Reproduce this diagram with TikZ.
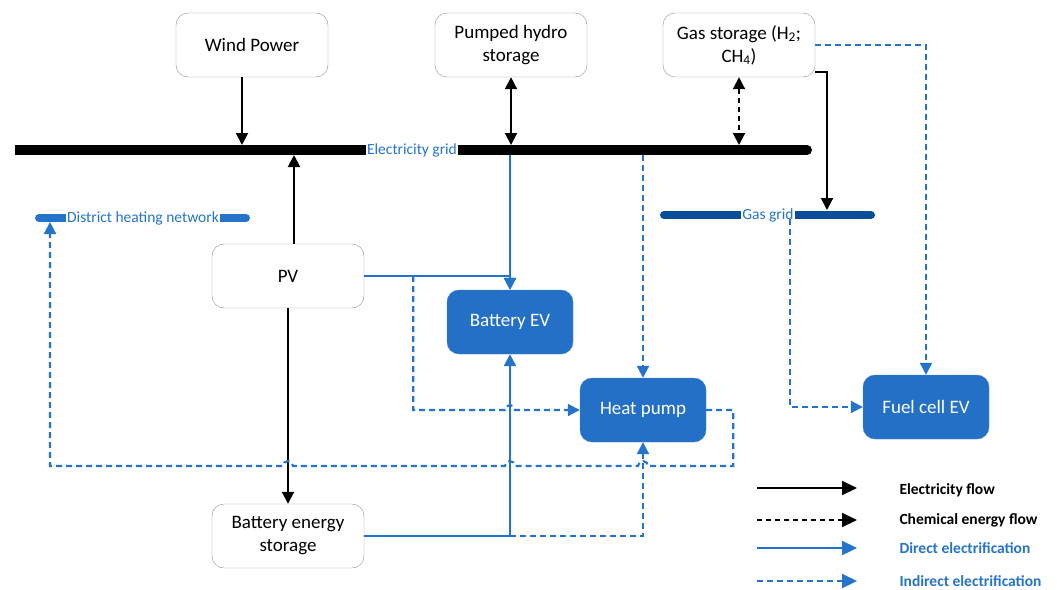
\documentclass[tikz,border=0pt]{standalone}
\usepackage{fontspec}
\setmainfont{Carlito}
\usetikzlibrary{arrows.meta,calc}
\definecolor{boxblue}{HTML}{2470C6}
\definecolor{flowblue}{HTML}{2474CC}
\definecolor{gasblue}{HTML}{0A4E9A}
\definecolor{rimgray}{HTML}{909090}

\begin{document}
\begin{tikzpicture}[x=1pt,y=-1pt,>={Triangle[length=12pt,width=12pt]},
  plain/.style={draw=rimgray,fill=white,rounded corners=12pt,align=center,
    minimum width=152pt,minimum height=64pt,font=\fontsize{19}{23}\selectfont},
  filled/.style={draw=boxblue!85!white,fill=boxblue,text=white,rounded corners=12pt,
    minimum width=126pt,minimum height=64pt,font=\fontsize{19}{23}\selectfont},
  elec/.style={->,line width=2pt},
  chem/.style={->,line width=2pt,dash pattern=on 5pt off 4pt},
  direct/.style={->,flowblue,line width=2.3pt},
  indirect/.style={->,flowblue,line width=2.1pt,dash pattern=on 6pt off 4pt},
  bar/.style={line width=10pt},
  barlabel/.style={flowblue,font=\fontsize{15.5}{18}\selectfont,inner sep=1pt},
  keytext/.style={anchor=west,font=\fontsize{15.5}{18}\selectfont\bfseries},
  keytip/.style={-{Triangle[length=15pt,width=14pt]}}]
  \useasboundingbox (0,0) rectangle (1057,589);

  % boxes
  \node[plain] (wind) at (252,45) {Wind Power};
  \node[plain] (hydro) at (511,45) {Pumped hydro\\storage};
  \node[plain] (gas) at (739,45) {Gas storage (H\textsubscript{2};\\CH\textsubscript{4})};
  \node[plain] (pv) at (288,276) {PV};
  \node[plain] (bes) at (288,536) {Battery energy\\storage};
  \node[filled] (bev) at (510,322) {Battery EV};
  \node[filled] (hp) at (643,410) {Heat pump};
  \node[filled] (fcev) at (926,407) {Fuel cell EV};

  % networks
  \node[barlabel] (elgrid) at (412,150) {Electricity grid};
  \draw[bar] (15,150) -- (elgrid.west);
  \draw[bar] (elgrid.east) -- (807,150);
  \draw[bar,line cap=round] (800,150) -- (807,150);
  \node[barlabel] (gasgrid) at (768,215) {Gas grid};
  \draw[bar,gasblue,line width=8pt] (664,215) -- (gasgrid.west);
  \draw[bar,gasblue,line width=8pt] (gasgrid.east) -- (871,215);
  \draw[bar,gasblue,line width=8pt,line cap=round] (664,215) -- (680,215) (860,215) -- (871,215);
  \node[barlabel,anchor=west] (dhn) at (66,218) {District heating network};
  \draw[bar,flowblue,line width=8pt] (39,218) -- (dhn.west);
  \draw[bar,flowblue,line width=8pt] (dhn.east) -- (246,218);
  \draw[bar,flowblue,line width=8pt,line cap=round] (39,218) -- (45,218) (240,218) -- (246,218);

  \coordinate (gridtop) at (0,145);
  \coordinate (gridbot) at (0,155);
  \coordinate (ggtop) at (827,210);
  \coordinate (ggdrop) at (790,219);
  \coordinate (dhbot) at (50,222);
  \coordinate (pvsplit) at ($(pv.east)+(49,0)$);
  \coordinate (loopR) at ($(hp.east)+(27,0)$);
  \coordinate (loopy) at (0,466);

  % flows
  \draw[elec] ([xshift=-10pt]wind.south) -- ([xshift=-10pt]wind.south |- gridtop);
  \draw[elec,<->] (hydro.south) -- (hydro.south |- gridtop);
  \draw[chem,<->] (gas.south) -- (gas.south |- gridtop);
  \draw[elec] ([yshift=5pt]gas.south east) -| (ggtop);
  \draw[indirect] (gas.east) -| (fcev.north);
  \draw[elec] ([xshift=6pt]pv.north) -- ([xshift=6pt]pv.north |- gridbot);
  \draw[elec] (pv.south) -- (bes.north);
  \draw[direct] (bev.north |- gridbot) -- (bev.north);
  \draw[direct] (pv.east) -| (bev.north);
  \draw[indirect] (pvsplit) |- ([xshift=-5pt]bev.south |- hp.west)
    arc[start angle=180,delta angle=-180,radius=5pt] -- (hp.west);
  \draw[indirect] (hp.north |- gridbot) -- (hp.north);
  \draw[direct] (bes.east) -| (bev.south);
  \draw[indirect] (bes.east -| bev.south) -| (hp.south);
  \draw[indirect] (hp.east) -- (loopR) |- ([xshift=5pt]hp.south |- loopy)
    arc[start angle=0,delta angle=180,radius=5pt]
    -- ([xshift=5pt]bev.south |- loopy) arc[start angle=0,delta angle=180,radius=5pt]
    -- ([xshift=5pt]pv.south |- loopy) arc[start angle=0,delta angle=180,radius=5pt]
    -- (dhbot |- loopy) -- (dhbot);
  \draw[indirect] (ggdrop) |- (fcev.west);

  % key
  \coordinate (k1a) at (757,488); \coordinate (k1b) at (857,488);
  \coordinate (k2a) at (757,520); \coordinate (k2b) at (857,520);
  \coordinate (k3a) at (757,548); \coordinate (k3b) at (857,548);
  \coordinate (k4a) at (757,581); \coordinate (k4b) at (857,581);
  \draw[elec,keytip] (k1a) -- (k1b);
  \draw[chem,keytip] (k2a) -- (k2b);
  \draw[direct,keytip] (k3a) -- (k3b);
  \draw[indirect,keytip] (k4a) -- (k4b);
  \node[keytext] (key1) at (896,490) {Electricity flow};
  \node[keytext] (key2) at (896,520) {Chemical energy flow};
  \node[keytext,flowblue] (key3) at (896,548) {Direct electrification};
  \node[keytext,flowblue] (key4) at (896,581) {Indirect electrification};
\end{tikzpicture}
\end{document}
